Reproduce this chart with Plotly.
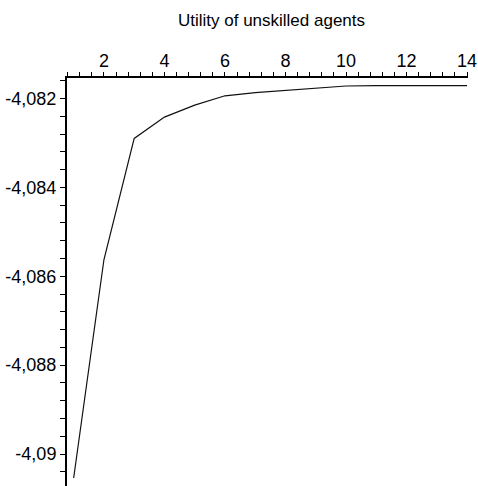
import plotly.graph_objects as go

# Data
x_vals = [1, 2, 3, 4, 5, 6, 7, 8, 9, 10, 11, 12, 13, 14]
utility = [-4.09054, -4.08563, -4.08290, -4.08242, -4.08215, -4.08194, -4.08187,
           -4.08182, -4.08177, -4.08172, -4.08171, -4.08171, -4.08171, -4.08171]

x_tickvals = [2, 4, 6, 8, 10, 12, 14]
x_ticktext = ["2", "4", "6", "8", "10", "12", "14"]
y_tickvals = [-4.082, -4.084, -4.086, -4.088, -4.09]
y_ticktext = ["-4,082", "-4,084", "-4,086", "-4,088", "-4,09"]
title_text = "Utility of unskilled agents"

FONT = "Liberation Sans, Arial, sans-serif"

W, H = 478, 486

fig = go.Figure()
fig.add_trace(go.Scatter(x=x_vals, y=utility, mode="lines",
                         line=dict(color="#111111", width=1.2),
                         hoverinfo="skip", showlegend=False))

fig.update_layout(
    width=W, height=H,
    margin=dict(l=67, r=10, t=78, b=0, pad=0, autoexpand=False),
    paper_bgcolor="white", plot_bgcolor="white",
    font=dict(family=FONT, size=18, color="black"),
    title=dict(text=title_text, x=0.51, xref="paper", xanchor="center",
               y=1 - 20 / H, yref="container", yanchor="middle",
               font=dict(family=FONT, size=17, color="black"),
               automargin=False),
)

fig.update_xaxes(
    range=[0.78, 14.03], side="top", automargin=False,
    showline=True, linecolor="black", linewidth=2,
    showgrid=False, zeroline=False,
    tickmode="array", tickvals=x_tickvals, ticktext=x_ticktext,
    ticks="outside", ticklen=4, tickwidth=1, tickcolor="black",
    ticklabelstandoff=-2,
    tickfont=dict(family=FONT, size=18, color="black"),
    minor=dict(tickmode="linear", tick0=0, dtick=0.4, ticks="outside",
               ticklen=4, tickwidth=1, tickcolor="black", showgrid=False),
    fixedrange=True,
)
fig.update_yaxes(
    range=[-4.09072, -4.08154], automargin=False,
    showline=True, linecolor="black", linewidth=2,
    showgrid=False, zeroline=False,
    tickmode="array", tickvals=y_tickvals, ticktext=y_ticktext,
    ticks="outside", ticklen=5, tickwidth=1, tickcolor="black",
    tickfont=dict(family=FONT, size=18, color="black"),
    minor=dict(tickmode="linear", tick0=0, dtick=0.0004, ticks="outside",
               ticklen=5, tickwidth=1, tickcolor="black", showgrid=False),
    fixedrange=True,
)

fig.write_html("out.html", config={"displayModeBar": False},
               post_script="document.body.style.margin='0';"
                           "document.body.style.overflow='hidden';")
